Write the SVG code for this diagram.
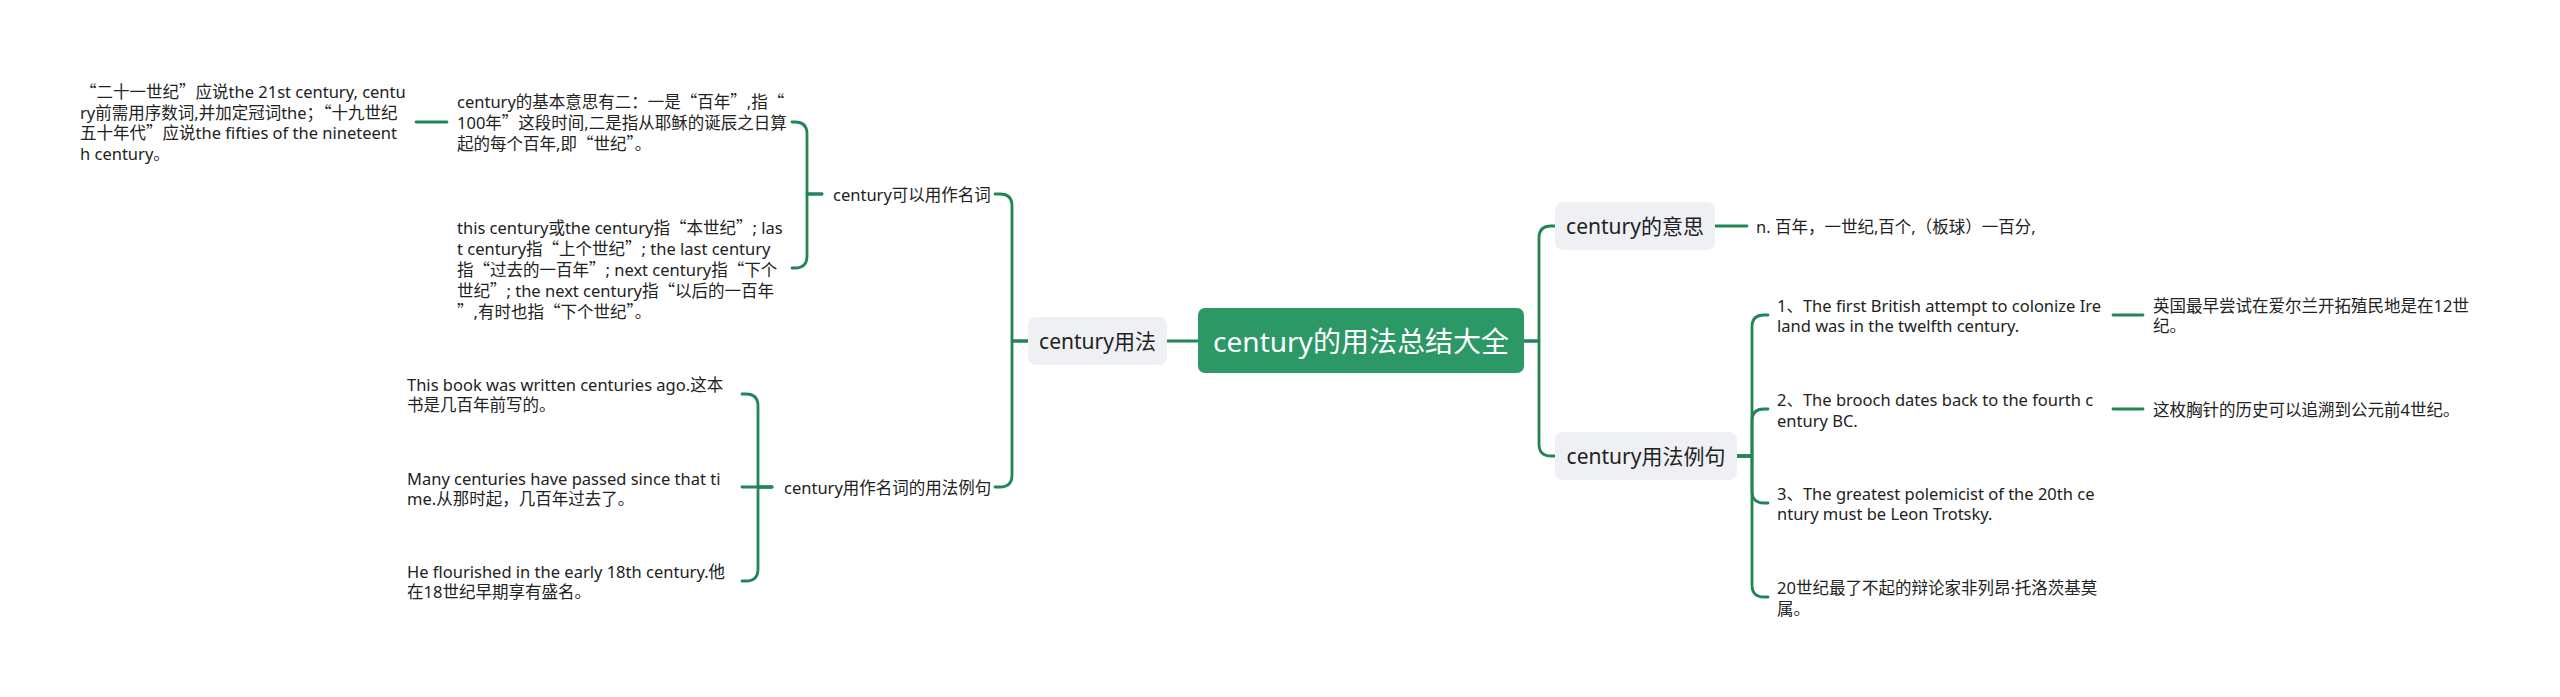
<svg xmlns="http://www.w3.org/2000/svg" width="2560" height="697" viewBox="0 0 2560 697">
<style>
text{font-family:"Noto Sans","Noto Sans CJK SC",sans-serif;fill:#222;dominant-baseline:central}
.q{font-family:"Noto Sans CJK SC","Noto Sans",sans-serif}
.t{font-size:16.5px}
.l1{font-size:21px}
.root{font-size:28px;fill:#fff}
.box{fill:#eef0f3}
.conn path{fill:none;stroke:#218556;stroke-width:2.8;stroke-linecap:round;stroke-linejoin:round}
</style>
<rect width="2560" height="697" fill="#fff"/>
<g class="conn" id="connectors">
<path d="M1198,341 H1167"/>
<path d="M1028,341 H1012 V206 Q1012,194 1000,194 H995"/>
<path d="M1028,341 H1012 V475 Q1012,487 1000,487 H995"/>
<path d="M822,194 H807 V134 Q807,122 795,122 H792"/>
<path d="M822,194 H807 V256 Q807,268 795,268 H792"/>
<path d="M447,122 H416"/>
<path d="M772,487 H758 V406 Q758,394 746,394 H742"/>
<path d="M772,487 H742"/>
<path d="M772,487 H758 V569 Q758,581 746,581 H742"/>
<path d="M1524,341 H1539 V238 Q1539,226 1551,226 H1555"/>
<path d="M1524,341 H1539 V444 Q1539,456 1551,456 H1555"/>
<path d="M1715,226 H1747"/>
<path d="M1737,456 H1752 V327 Q1752,315 1764,315 H1768"/>
<path d="M1737,456 H1752 V421 Q1752,409 1764,409 H1768"/>
<path d="M1737,456 H1752 V491 Q1752,503 1764,503 H1768"/>
<path d="M1737,456 H1752 V585 Q1752,597 1764,597 H1768"/>
<path d="M2113,315 H2143"/>
<path d="M2113,409 H2143"/>
</g>
<g id="root">
<rect x="1198" y="308" width="326" height="65" rx="7" fill="#2b9866"/>
<text class="root" x="1361" y="341" text-anchor="middle">century的用法总结大全</text>
</g>
<g id="n-usage">
<rect class="box" x="1028" y="317" width="139" height="48" rx="8"/>
<text class="l1" x="1097.5" y="341" text-anchor="middle">century用法</text>
</g>
<g id="n-noun">
<text class="t" x="833" y="194">century可以用作名词</text>
</g>
<g id="n-basic">
<text class="t" x="457" y="101.2"><tspan x="457">century的基本意思有二：一是<tspan class="q">“</tspan>百年<tspan class="q">”</tspan>,指<tspan class="q">“</tspan></tspan><tspan x="457" dy="20.8">100年<tspan class="q">”</tspan>这段时间,二是指从耶稣的诞辰之日算</tspan><tspan x="457" dy="20.8">起的每个百年,即<tspan class="q">“</tspan>世纪<tspan class="q">”</tspan>。</tspan></text>
</g>
<g id="n-21st">
<text class="t" x="80" y="90.8"><tspan x="80"><tspan class="q">“</tspan>二十一世纪<tspan class="q">”</tspan>应说the 21st century, centu</tspan><tspan x="80" dy="20.8">ry前需用序数词,并加定冠词the；<tspan class="q">“</tspan>十九世纪</tspan><tspan x="80" dy="20.8">五十年代<tspan class="q">”</tspan>应说the fifties of the nineteent</tspan><tspan x="80" dy="20.8">h century。</tspan></text>
</g>
<g id="n-this">
<text class="t" x="457" y="227.4"><tspan x="457">this century或the century指<tspan class="q">“</tspan>本世纪<tspan class="q">”</tspan>; las</tspan><tspan x="457" dy="20.8">t century指<tspan class="q">“</tspan>上个世纪<tspan class="q">”</tspan>; the last century</tspan><tspan x="457" dy="20.8">指<tspan class="q">“</tspan>过去的一百年<tspan class="q">”</tspan>; next century指<tspan class="q">“</tspan>下个</tspan><tspan x="457" dy="20.8">世纪<tspan class="q">”</tspan>; the next century指<tspan class="q">“</tspan>以后的一百年</tspan><tspan x="457" dy="20.8"><tspan class="q">”</tspan>,有时也指<tspan class="q">“</tspan>下个世纪<tspan class="q">”</tspan>。</tspan></text>
</g>
<g id="n-examples-left">
<text class="t" x="784" y="487">century用作名词的用法例句</text>
</g>
<g id="n-ex1">
<text class="t" x="407" y="383.6"><tspan x="407">This book was written centuries ago.这本</tspan><tspan x="407" dy="20.8">书是几百年前写的。</tspan></text>
</g>
<g id="n-ex2">
<text class="t" x="407" y="477.6"><tspan x="407">Many centuries have passed since that ti</tspan><tspan x="407" dy="20.8">me.从那时起，几百年过去了。</tspan></text>
</g>
<g id="n-ex3">
<text class="t" x="407" y="570.6"><tspan x="407">He flourished in the early 18th century.他</tspan><tspan x="407" dy="20.8">在18世纪早期享有盛名。</tspan></text>
</g>
<g id="n-meaning">
<rect class="box" x="1555" y="202" width="160" height="48" rx="8"/>
<text class="l1" x="1635" y="226" text-anchor="middle">century的意思</text>
</g>
<g id="n-meaning-text">
<text class="t" x="1756" y="226">n. 百年，一世纪,百个,（板球）一百分,</text>
</g>
<g id="n-examples">
<rect class="box" x="1555" y="432" width="182" height="48" rx="8"/>
<text class="l1" x="1646" y="456" text-anchor="middle">century用法例句</text>
</g>
<g id="n-r1">
<text class="t" x="1777" y="304.6"><tspan x="1777">1、The first British attempt to colonize Ire</tspan><tspan x="1777" dy="20.8">land was in the twelfth century.</tspan></text>
</g>
<g id="n-r1t">
<text class="t" x="2153" y="304.6"><tspan x="2153">英国最早尝试在爱尔兰开拓殖民地是在12世</tspan><tspan x="2153" dy="20.8">纪。</tspan></text>
</g>
<g id="n-r2">
<text class="t" x="1777" y="399"><tspan x="1777">2、The brooch dates back to the fourth c</tspan><tspan x="1777" dy="20.8">entury BC.</tspan></text>
</g>
<g id="n-r2t">
<text class="t" x="2153" y="409.5">这枚胸针的历史可以追溯到公元前4世纪。</text>
</g>
<g id="n-r3">
<text class="t" x="1777" y="492.6"><tspan x="1777">3、The greatest polemicist of the 20th ce</tspan><tspan x="1777" dy="20.8">ntury must be Leon Trotsky.</tspan></text>
</g>
<g id="n-r4">
<text class="t" x="1777" y="587"><tspan x="1777">20世纪最了不起的辩论家非列昂·托洛茨基莫</tspan><tspan x="1777" dy="20.8">属。</tspan></text>
</g>
</svg>
